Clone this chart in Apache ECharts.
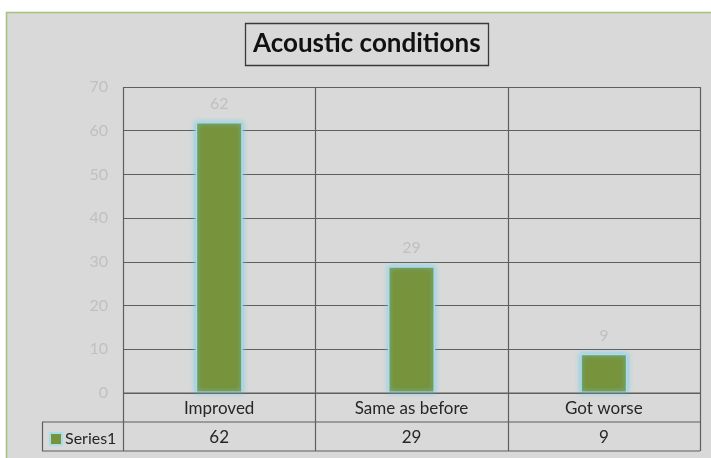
<!DOCTYPE html>
<html>
<head>
<meta charset="utf-8">
<script src="https://cdn.jsdelivr.net/npm/echarts@6/dist/echarts.min.js"></script>
<style>
  html, body { margin: 0; padding: 0; background: #ffffff; }
  #chart { width: 711px; height: 458px; }
</style>
</head>
<body>
<div id="chart"></div>
<script>
// Survey answers about the acoustic conditions
const categories = ['Improved', 'Same as before', 'Got worse'];
const series1 = [62, 29, 9];
const seriesName = 'Series1';
const yTicks = { min: 0, max: 70, interval: 10 };

const FONT = 'Lato, "Open Sans", sans-serif';
const GRID = { left: 123, top: 87, right: 11, bottom: 65 };
const ROW_H = 29;
const LINE = '#5f5f5f';

const chart = echarts.init(document.getElementById('chart'));

function tableGraphics() {
  const W = chart.getWidth(), H = chart.getHeight();
  const x0 = GRID.left, x1 = W - GRID.right;
  const yTop = GRID.top, y0 = H - GRID.bottom;
  const y1 = y0 + ROW_H, y2 = y1 + ROW_H;
  const legendLeft = 42;
  const band = (x1 - x0) / categories.length;
  const els = [];
  const line = (ax, ay, bx, by) => els.push({
    type: 'line', z: 50,
    shape: { x1: ax, y1: ay, x2: bx, y2: by },
    style: { stroke: LINE, lineWidth: 1.2 }
  });
  // category boundaries run from the plot top down through the table
  for (let i = 0; i <= categories.length; i++) {
    const x = Math.round(x0 + band * i) + 0.5;
    line(x, yTop, x, y2);
  }
  line(x0, y0, x1, y0);
  line(legendLeft, y1, x1, y1);
  line(legendLeft, y2, x1, y2);
  line(legendLeft + 0.5, y1, legendLeft + 0.5, y2);
  return els;
}

chart.setOption({
  backgroundColor: '#ffffff',
  animation: false,
  textStyle: { fontFamily: FONT },
  graphic: [
    {
      type: 'rect', z: -10, silent: true,
      shape: { x: 6.5, y: 12.5, width: 720, height: 460 },
      style: { fill: '#d9d9d9', stroke: '#a3c27a', lineWidth: 1.5 }
    },
    {
      type: 'rect', z: 10,
      shape: { x: 245.5, y: 23.5, width: 243, height: 42 },
      style: { fill: 'transparent', stroke: '#3a3a3a', lineWidth: 1.3 }
    }
  ],
  title: {
    text: 'Acoustic conditions',
    left: 253,
    top: 31,
    padding: 0,
    textStyle: { fontFamily: FONT, fontSize: 26, fontWeight: 'bold', color: '#111111' }
  },
  legend: {
    left: 44, top: 426,
    icon: 'rect', itemWidth: 12, itemHeight: 12, itemGap: 3,
    textStyle: { fontFamily: FONT, fontSize: 16, color: '#262626', padding: [0, 0, 0, -2] },
    data: [seriesName]
  },
  grid: { left: GRID.left, top: GRID.top, right: GRID.right, bottom: GRID.bottom, containLabel: false },
  xAxis: [
    {
      type: 'category',
      data: categories,
      axisLine: { show: false },
      axisTick: { show: false },
      splitLine: { show: false },
      axisLabel: { margin: 7, fontFamily: FONT, fontSize: 17, color: '#262626' }
    },
    {
      type: 'category',
      position: 'bottom',
      offset: ROW_H,
      data: series1.map(String),
      axisLine: { show: false },
      axisTick: { show: false },
      splitLine: { show: false },
      axisLabel: { margin: 7, fontFamily: FONT, fontSize: 17, color: '#262626' }
    }
  ],
  yAxis: {
    type: 'value',
    min: yTicks.min, max: yTicks.max, interval: yTicks.interval,
    axisLine: { show: false },
    axisTick: { show: false },
    axisLabel: { margin: 15, fontFamily: FONT, fontSize: 16, color: '#c0c0c0' },
    splitLine: { lineStyle: { color: LINE, width: 1.2 } }
  },
  series: [{
    name: seriesName,
    type: 'bar',
    data: series1,
    barWidth: 47,
    itemStyle: {
      color: '#77933c',
      borderColor: '#a9dcea',
      borderWidth: 1.5,
      shadowBlur: 5,
      shadowColor: 'rgba(110, 205, 235, 0.9)'
    },
    label: {
      show: true, position: 'top', distance: 10,
      fontFamily: FONT, fontSize: 16, color: '#c0c0c0'
    },
    z: 5
  }]
});

chart.setOption({ graphic: chart.getOption().graphic[0].elements.concat(tableGraphics()) });
</script>
</body>
</html>
